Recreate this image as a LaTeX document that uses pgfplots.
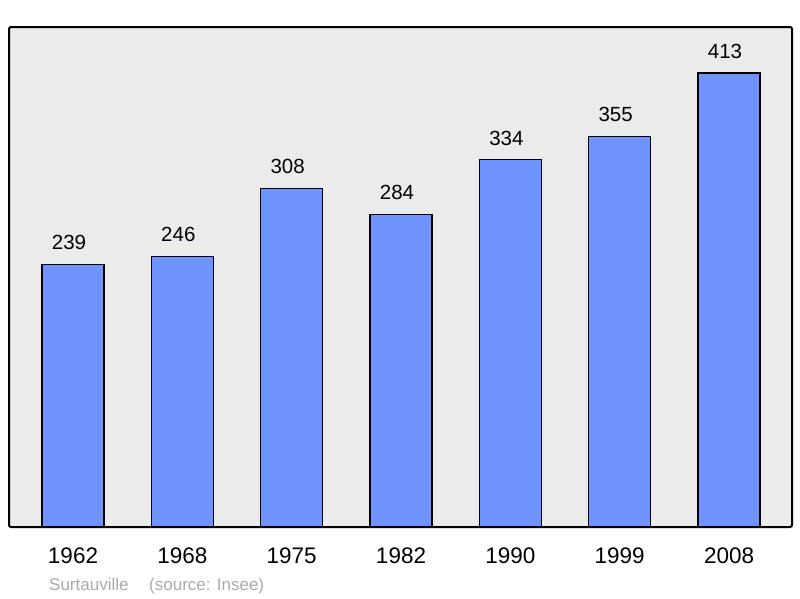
\documentclass[border=0pt]{standalone}
\usepackage{fontspec}
\setmainfont{Liberation Sans}
\usepackage{pgfplots}
\pgfplotsset{compat=1.18}
\definecolor{barblue}{HTML}{7094FF}
\definecolor{bggray}{HTML}{EBEBEB}
\definecolor{notegray}{HTML}{AAAAAA}
\begin{document}
\begin{tikzpicture}
\useasboundingbox (-9pt,-71pt) rectangle (791pt,527pt);
\begin{axis}[
  at={(0pt,0pt)}, anchor=south west,
  scale only axis, width=783pt, height=500pt,
  xmin=-0.5854, xmax=6.576, ymin=0, ymax=454.8,
  axis background/.style={fill=bggray},
  axis line style={line width=2pt, rounded corners=2pt},
  ytick=\empty,
  xtick=data,
  xticklabels={1962,1968,1975,1982,1990,1999,2008},
  major tick length=0pt,
  xticklabel style={inner sep=0pt, anchor=north, yshift=-21pt,
    font=\fontsize{22.5}{26}\selectfont},
  /pgf/number format/assume math mode=true,
  ybar, bar width=62pt,
  nodes near coords,
  nodes near coords style={inner sep=0pt, anchor=south, yshift=14pt,
    xshift=-4pt, font=\fontsize{20.5}{24}\selectfont, black},
  clip=false,
]
\addplot[fill=barblue, draw=black, line width=1.2pt] coordinates {
  (0,239) (1,246) (2,308) (3,284) (4,334) (5,355) (6,413)
};
\end{axis}
\node[anchor=base west, inner sep=0pt, text=notegray,
  font=\fontsize{17}{20}\selectfont] at (40pt,-63pt) {Surtauville};
\node[anchor=base west, inner sep=0pt, text=notegray,
  font=\fontsize{17}{20}\selectfont] at (140pt,-63pt) {(source: Insee)};
\end{tikzpicture}
\end{document}
